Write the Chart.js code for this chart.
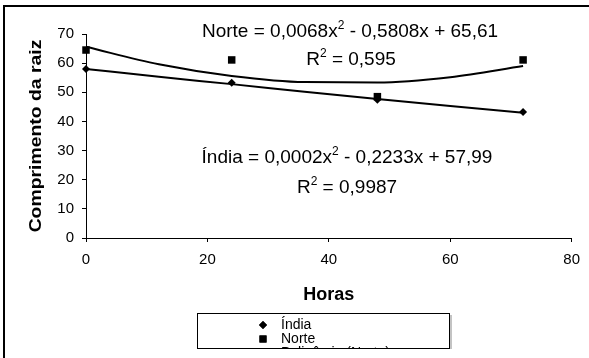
<!DOCTYPE html>
<html>
<head>
<meta charset="utf-8">
<script src="https://cdn.jsdelivr.net/npm/chart.js@4.4.1/dist/chart.umd.min.js"></script>
<style>
  html, body { margin: 0; padding: 0; background: #fff; }
  #wrap { width: 589px; height: 358px; position: relative; }
</style>
</head>
<body>
<div id="wrap"><canvas id="grafico"></canvas></div>
<script>
/***** dados *****/
const horas      = [0, 24, 48, 72];
const india      = [58.0, 53.3, 47.4, 43.2];
const norte      = [64.5, 61.1, 48.5, 61.1];

// curvas de tendencia (polinomio 2a ordem)
const horasTend  = [0, 12, 24, 36, 48, 60, 72];
const indiaTend  = [58.0, 55.3, 52.8, 50.2, 47.7, 45.3, 43.0];
const norteTend  = [65.6, 59.6, 55.6, 53.5, 53.4, 55.2, 59.0];

const xTicks = [0, 20, 40, 60, 80];
const yTicks = [0, 10, 20, 30, 40, 50, 60, 70];

const eqNorte = ["Norte = 0,0068x", "2", " - 0,5808x + 65,61"];
const r2Norte = ["R", "2", " = 0,595"];
const eqIndia = ["Índia = 0,0002x", "2", " - 0,2233x + 57,99"];
const r2India = ["R", "2", " = 0,9987"];

const tituloX = "Horas";
const tituloY = "Comprimento da raiz";
const legendas = ["Índia", "Norte", "Polinômio (Norte)"];

/***** helpers *****/
const FONTE = "'Liberation Sans', Arial, sans-serif";
const pts = (xs, ys) => xs.map((x, i) => ({ x, y: ys[i] }));

function textoSup(ctx, partes, cx, base, size){
  ctx.font = `${size}px ${FONTE}`;
  const w1 = ctx.measureText(partes[0]).width;
  const w3 = ctx.measureText(partes[2]).width;
  ctx.font = `${Math.round(size*0.62)}px ${FONTE}`;
  const w2 = ctx.measureText(partes[1]).width;
  let x = cx - (w1 + w2 + w3) / 2;
  ctx.textAlign = "left"; ctx.textBaseline = "alphabetic";
  ctx.font = `${size}px ${FONTE}`;
  ctx.fillText(partes[0], x, base); x += w1;
  ctx.font = `${Math.round(size*0.62)}px ${FONTE}`;
  ctx.fillText(partes[1], x, base - size*0.42); x += w2;
  ctx.font = `${size}px ${FONTE}`;
  ctx.fillText(partes[2], x, base);
}

/***** plugin: moldura, titulos, equacoes e legenda *****/
const decoracao = {
  id: "decoracao",
  afterDraw(chart){
    const ctx = chart.ctx;
    const { left, right, top, bottom } = chart.chartArea;
    ctx.save();
    ctx.fillStyle = "#000";

    // moldura externa (cortada a direita e embaixo)
    ctx.strokeStyle = "#000"; ctx.lineWidth = 2;
    ctx.strokeRect(4, 6, 700, 500);

    // equacoes
    textoSup(ctx, eqNorte, 350, 37, 19);
    textoSup(ctx, r2Norte, 351, 65, 19);
    textoSup(ctx, eqIndia, 347, 163, 19);
    textoSup(ctx, r2India, 347, 193, 19);

    // titulo X
    ctx.font = `bold 18px ${FONTE}`;
    ctx.textAlign = "center"; ctx.textBaseline = "alphabetic";
    ctx.fillText(tituloX, (left + right) / 2, 300);

    // titulo Y (um pouco esticado na vertical como no original)
    ctx.save();
    ctx.translate(41, (top + bottom) / 2);
    ctx.rotate(-Math.PI / 2);
    ctx.scale(1.14, 1);
    ctx.font = `bold 17px ${FONTE}`;
    ctx.fillText(tituloY, 0, 0);
    ctx.restore();

    // legenda
    const lx = 197, ly = 313, lw = 252, lh = 35;
    ctx.fillStyle = "#fff"; ctx.fillRect(lx, ly, lw, lh);
    ctx.save();
    ctx.beginPath(); ctx.rect(lx, ly, lw, lh); ctx.clip();
    ctx.fillStyle = "#000";
    ctx.font = `14px ${FONTE}`;
    ctx.textAlign = "left";
    Chart.helpers.drawPoint(ctx, { pointStyle: "rectRot", radius: 4, borderWidth: 0 }, 263, 325);
    ctx.fill();
    ctx.fillText(legendas[0], 281, 329);
    Chart.helpers.drawPoint(ctx, { pointStyle: "rect", radius: 5, borderWidth: 0 }, 263, 339);
    ctx.fill();
    ctx.fillText(legendas[1], 281, 343);
    ctx.fillText(legendas[2], 281, 357);
    ctx.restore();
    ctx.strokeStyle = "#000"; ctx.lineWidth = 1;
    ctx.strokeRect(lx + 0.5, ly + 0.5, lw, lh);
    ctx.strokeStyle = "#888";
    ctx.beginPath(); ctx.moveTo(lx + lw + 2, ly + 2); ctx.lineTo(lx + lw + 2, ly + lh + 1); ctx.stroke();
    ctx.restore();
  }
};

/***** grafico *****/
const eixo = (ticks, fit) => ({
  type: "linear",
  min: ticks[0], max: ticks[ticks.length - 1],
  afterBuildTicks: s => { s.ticks = ticks.map(v => ({ value: v })); },
  afterFit: fit,
  ticks: { color: "#000", font: { family: FONTE, size: 15 } },
  grid: { drawOnChartArea: false, color: "#000", tickColor: "#000", tickLength: 4 },
  border: { color: "#000", width: 1 }
});

const escX = eixo(xTicks, s => { s.height = 30; });
escX.ticks.padding = 9;
const escY = eixo(yTicks, s => { s.width = 40; });
escY.ticks.padding = 8;

new Chart(document.getElementById("grafico"), {
  type: "scatter",
  data: {
    datasets: [
      { label: legendas[0], data: pts(horas, india), pointStyle: "rectRot", pointRadius: 4,
        backgroundColor: "#000", borderColor: "#000", borderWidth: 0, showLine: false, clip: false },
      { label: legendas[1], data: pts(horas, norte), pointStyle: "rect", pointRadius: 5.3,
        backgroundColor: "#000", borderColor: "#000", borderWidth: 0, showLine: false, clip: false },
      { label: legendas[2], data: pts(horasTend, norteTend), showLine: true, pointRadius: 0,
        borderColor: "#000", borderWidth: 2, cubicInterpolationMode: "monotone", clip: false },
      { label: "Polinômio (Índia)", data: pts(horasTend, indiaTend), showLine: true, pointRadius: 0,
        borderColor: "#000", borderWidth: 2, cubicInterpolationMode: "monotone", clip: false }
    ]
  },
  options: {
    responsive: true,
    maintainAspectRatio: false,
    animation: false,
    layout: { padding: { left: 46, right: 17, top: 34, bottom: 90 } },
    plugins: { legend: { display: false }, tooltip: { enabled: false } },
    scales: { x: escX, y: escY }
  },
  plugins: [decoracao]
});
</script>
</body>
</html>
